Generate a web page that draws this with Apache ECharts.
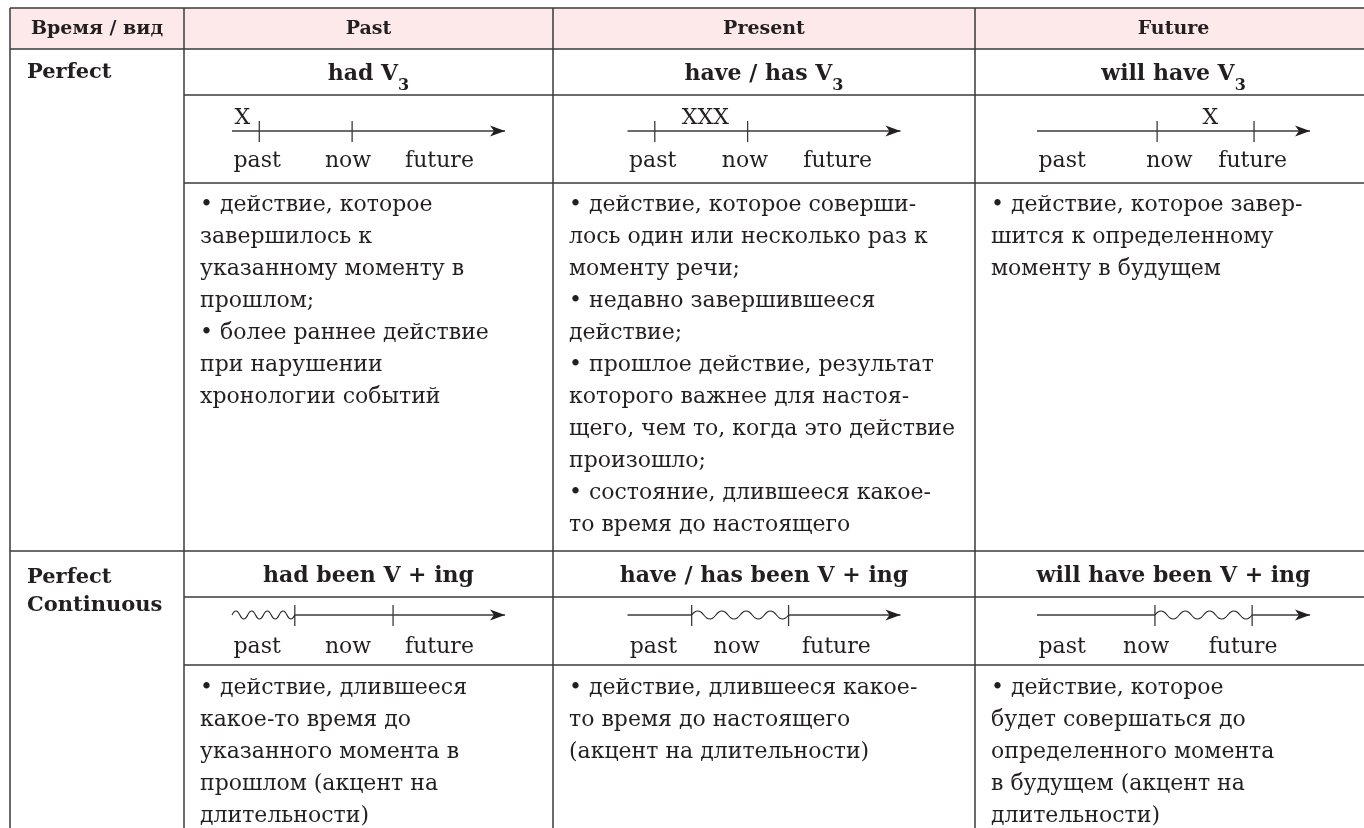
<!DOCTYPE html>
<html><head><meta charset="utf-8">
<script src="https://cdn.jsdelivr.net/npm/echarts@6/dist/echarts.min.js"></script>
<style>html,body{margin:0;padding:0;background:#fff}#main{width:1364px;height:828px}</style>
</head><body><div id="main"></div>
<script>
// ---------- DATA ----------
const headerLabels = ['Время / вид', 'Past', 'Present', 'Future'];
const aspectLabels = ['Perfect', 'Perfect\nContinuous'];
const perfectFormulas = [['had V', '3'], ['have / has V', '3'], ['will have V', '3']];
const continuousFormulas = [['had been V + ing', ''], ['have / has been V + ing', ''], ['will have been V + ing', '']];
const perfectNotes = [
  ['• действие, которое', 'завершилось к', 'указанному моменту в', 'прошлом;', '• более раннее действие', 'при нарушении', 'хронологии событий'],
  ['• действие, которое соверши-', 'лось один или несколько раз к', 'моменту речи;', '• недавно завершившееся', 'действие;', '• прошлое действие, результат', 'которого важнее для настоя-', 'щего, чем то, когда это действие', 'произошло;', '• состояние, длившееся какое-', 'то время до настоящего'],
  ['• действие, которое завер-', 'шится к определенному', 'моменту в будущем']
];
const continuousNotes = [
  ['• действие, длившееся', 'какое-то время до', 'указанного момента в', 'прошлом (акцент на', 'длительности)'],
  ['• действие, длившееся какое-', 'то время до настоящего', '(акцент на длительности)'],
  ['• действие, которое', 'будет совершаться до', 'определенного момента', 'в будущем (акцент на', 'длительности)']
];
const timeLabels = ['past', 'now', 'future'];
// timeline positions, in units along a 0..10 time axis
const perfectTicks = [[1.0, 4.4], [1.0, 4.4], [4.4, 7.95]];
const perfectMarks = [['X', 0.38], ['XXX', 2.85], ['X', 6.35]];
const perfectLabelPos = [[0.92, 4.25, 7.6], [0.92, 4.3, 7.7], [0.92, 4.85, 7.9]];
const continuousTicks = [[2.3, 5.9], [2.35, 5.9], [4.32, 7.88]];
const continuousWaves = [[0, 2.3], [2.35, 5.9], [4.32, 7.88]];
const continuousLabelPos = [[0.92, 4.25, 7.6], [0.95, 4.0, 7.65], [0.92, 4.0, 7.55]];

// ---------- LAYOUT / STYLE ----------
const FONT = '"DejaVu Serif", "Liberation Serif", serif';
const ink = '#231f20';
const rule = '#3a3a3a';
const cols = [10, 184, 553, 975, 1372];
const rows = [8, 49, 95, 183, 551, 597, 665, 900];

const g = [];
g.push({type: 'rect', silent: true, z: 0,
  shape: {x: cols[0], y: rows[0], width: cols[4] - cols[0], height: rows[1] - rows[0]},
  style: {fill: '#fde9e9'}});
const hLines = [[rows[0], cols[0]], [rows[1], cols[0]], [rows[2], cols[1]], [rows[3], cols[1]],
  [rows[4], cols[0]], [rows[5], cols[1]], [rows[6], cols[1]]];
hLines.forEach(([y, x0]) => g.push({type: 'line', silent: true, z: 2,
  shape: {x1: x0, y1: y, x2: cols[4], y2: y}, style: {stroke: rule, lineWidth: 1.5}}));
cols.forEach(x => g.push({type: 'line', silent: true, z: 2,
  shape: {x1: x, y1: rows[0], x2: x, y2: rows[7]}, style: {stroke: rule, lineWidth: 1.5}}));

function txt(x, y, text, font, align, valign, extra) {
  return Object.assign({type: 'text', silent: true, z: 3, x: x, y: y,
    style: Object.assign({text: text, fill: ink, font: font,
      textAlign: align, align: align, textVerticalAlign: valign, verticalAlign: valign}, extra || {})});
}
// header
headerLabels.forEach((h, i) => {
  g.push(txt((cols[i] + cols[i + 1]) / 2, (rows[0] + rows[1]) / 2 + 1, h, 'bold 19px ' + FONT, 'center', 'middle'));
});
// aspect labels
g.push(txt(27, (rows[1] + rows[2]) / 2 + 1, aspectLabels[0], 'bold 21px ' + FONT, 'left', 'middle'));
g.push(txt(27, rows[4] + 13, aspectLabels[1], 'bold 21px ' + FONT, 'left', 'top', {lineHeight: 28}));
// formulas
function formula(i, f, rowTop, rowBot) {
  const rich = {
    m: {font: 'bold 22px ' + FONT, fill: ink, lineHeight: 40, verticalAlign: 'middle'},
    s: {font: 'bold 16px ' + FONT, fill: ink, lineHeight: 16, verticalAlign: 'bottom'}
  };
  const text = '{m|' + f[0] + '}' + (f[1] ? '{s|' + f[1] + '}' : '');
  g.push(txt((cols[i + 1] + cols[i + 2]) / 2, (rowTop + rowBot) / 2 + 2, text, 'bold 22px ' + FONT, 'center', 'middle', {rich: rich}));
}
perfectFormulas.forEach((f, i) => formula(i, f, rows[1], rows[2]));
continuousFormulas.forEach((f, i) => formula(i, f, rows[4], rows[5]));
// notes
perfectNotes.forEach((lines, i) => g.push(txt(cols[i + 1] + 16, rows[3] + 6, lines.join('\n'), '22px ' + FONT, 'left', 'top', {lineHeight: 32})));
continuousNotes.forEach((lines, i) => g.push(txt(cols[i + 1] + 16, rows[6] + 7, lines.join('\n'), '22px ' + FONT, 'left', 'top', {lineHeight: 32})));

// ---------- TIMELINES (grids + custom series) ----------
const grids = [], xAxes = [], yAxes = [], series = [];
function addTimeline(colIdx, lineY, ticks, wave, mark, labelPos, labelDy) {
  const i = grids.length;
  const cw = cols[colIdx + 1] - cols[colIdx];
  const w = 273;
  grids.push({left: cols[colIdx] + (cw - w) / 2, width: w, top: lineY - 20, height: 40, show: false});
  xAxes.push({type: 'value', gridIndex: i, min: 0, max: 10, show: false});
  yAxes.push({type: 'value', gridIndex: i, min: -1, max: 1, show: false});
  series.push({
    type: 'custom', xAxisIndex: i, yAxisIndex: i, silent: true, clip: false, animation: false,
    data: [[0, 0]],
    renderItem: function (params, api) {
      const px = v => api.coord([v, 0])[0];
      const y0 = api.coord([0, 0])[1];
      const ch = [];
      const segs = wave ? [[0, wave[0]], [wave[1], 10]] : [[0, 10]];
      segs.forEach(([a, b]) => {
        if (b > a) ch.push({type: 'line', shape: {x1: px(a), y1: y0, x2: px(b), y2: y0}, style: {stroke: rule, lineWidth: 1.3}});
      });
      const tip = px(10);
      ch.push({type: 'polygon', shape: {points: [[tip, y0], [tip - 15, y0 - 5.5], [tip - 11, y0], [tip - 15, y0 + 5.5]]}, style: {fill: ink}});
      ticks.forEach(t => {
        const x = px(t);
        ch.push({type: 'line', shape: {x1: x, y1: y0 - 10, x2: x, y2: y0 + 11}, style: {stroke: rule, lineWidth: 1.3}});
      });
      if (wave) {
        const xa = px(wave[0]), xb = px(wave[1]);
        const n = 8, hw = (xb - xa) / n;
        let d = 'M' + xa + ' ' + y0;
        for (let k = 0; k < n; k++) {
          const cx = xa + hw * (k + 0.5);
          const cy = y0 + (k % 2 === 0 ? -8 : 8);
          d += ' Q' + cx + ' ' + cy + ' ' + (xa + hw * (k + 1)) + ' ' + y0;
        }
        ch.push({type: 'path', shape: {pathData: d}, style: {stroke: ink, fill: null, lineWidth: 1.1}});
      }
      if (mark) {
        ch.push({type: 'text', x: px(mark[1]), y: y0 - 13, style: {text: mark[0], fill: ink, font: '22px ' + FONT,
          textAlign: 'center', align: 'center', textVerticalAlign: 'middle', verticalAlign: 'middle'}});
      }
      timeLabels.forEach((t, k) => {
        ch.push({type: 'text', x: px(labelPos[k]), y: y0 + labelDy, style: {text: t, fill: ink, font: '22px ' + FONT,
          textAlign: 'center', align: 'center', textVerticalAlign: 'middle', verticalAlign: 'middle'}});
      });
      return {type: 'group', children: ch};
    }
  });
}
for (let c = 0; c < 3; c++) addTimeline(c + 1, 131, perfectTicks[c], null, perfectMarks[c], perfectLabelPos[c], 30);
for (let c = 0; c < 3; c++) addTimeline(c + 1, 615, continuousTicks[c], continuousWaves[c], null, continuousLabelPos[c], 32);

const chart = echarts.init(document.getElementById('main'), null, {renderer: 'canvas'});
chart.setOption({
  animation: false,
  grid: grids, xAxis: xAxes, yAxis: yAxes, series: series,
  graphic: {elements: g}
});
</script>
</body></html>
